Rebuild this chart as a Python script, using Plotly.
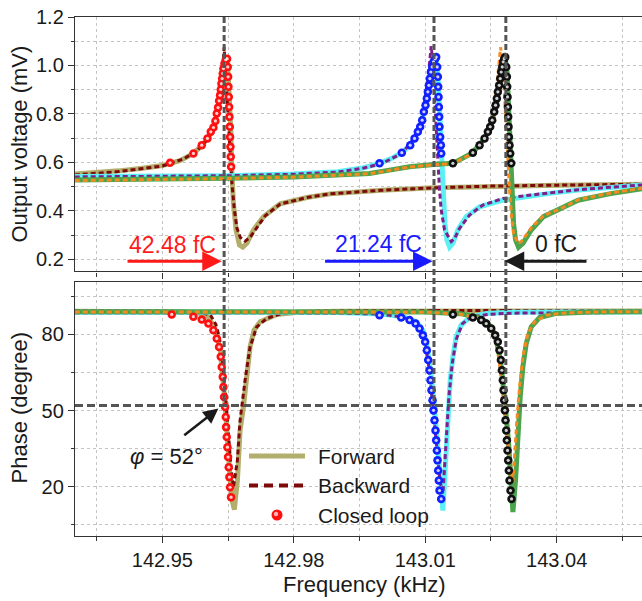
import plotly.graph_objects as go

# ---------------- data (frequency in kHz) ----------------
# Output voltage (mV), 42.48 fC
amp_fwd_4248_f = [142.9300, 142.9350, 142.9400, 142.9450, 142.9500, 142.9540, 142.9571, 142.9590, 142.9605,
                  142.9617, 142.9624, 142.9632, 142.9638, 142.9643, 142.96485, 142.9653, 142.96562, 142.96585,
                  142.96622, 142.96683, 142.96759, 142.96836, 142.96928, 142.97079, 142.97307, 142.97689,
                  142.9830, 142.9883, 143.0000, 143.0120, 143.0250, 143.0400, 143.0597]
amp_fwd_4248_v = [0.552, 0.557, 0.565, 0.575, 0.587, 0.607, 0.637, 0.670, 0.702,
                  0.739, 0.800, 0.869, 0.952, 1.007, 1.030, 0.870, 0.733, 0.568,
                  0.431, 0.321, 0.259, 0.250, 0.266, 0.321, 0.376, 0.429,
                  0.455, 0.470, 0.485, 0.495, 0.502, 0.506, 0.510]
amp_bwd_4248_f = [142.9300, 142.9400, 142.9500, 142.9550, 142.9580, 142.9600, 142.9615, 142.9625, 142.9633,
                  142.9638, 142.9641, 142.9645, 142.9650, 142.9655, 142.9659, 142.9664, 142.9670, 142.9678,
                  142.9689, 142.9700, 142.9715, 142.9735, 142.9769, 142.9830, 142.9883, 143.0000, 143.0120,
                  143.0250, 143.0400, 143.0597]
amp_bwd_4248_v = [0.548, 0.562, 0.585, 0.615, 0.650, 0.690, 0.745, 0.810, 0.900,
                  0.980, 1.075, 0.950, 0.800, 0.620, 0.510, 0.410, 0.330, 0.290,
                  0.275, 0.290, 0.330, 0.380, 0.428, 0.455, 0.470, 0.485, 0.495,
                  0.502, 0.506, 0.510]
amp_cl_4248_f = [142.95176, 142.95709, 142.95899, 142.96029, 142.96105, 142.96166, 142.96211, 142.96242,
                 142.96272, 142.96295, 142.96318, 142.96333, 142.96348, 142.96364, 142.96379, 142.96394,
                 142.96417, 142.96447, 142.96478, 142.96493, 142.96501, 142.96508, 142.96516, 142.96524,
                 142.96531, 142.96539, 142.96546, 142.96554, 142.96561, 142.96569]
amp_cl_4248_v = [0.598, 0.637, 0.671, 0.699, 0.726, 0.744, 0.771, 0.802,
                 0.826, 0.854, 0.877, 0.901, 0.925, 0.946, 0.967, 0.987,
                 1.008, 1.024, 1.028, 0.994, 0.953, 0.912, 0.870, 0.829,
                 0.788, 0.747, 0.705, 0.664, 0.623, 0.582]

# Output voltage (mV), 21.24 fC
amp_fwd_2124_f = [142.9300, 142.9500, 142.9650, 142.9800, 142.9900, 142.9960, 142.99957, 143.0025, 143.00466,
                  143.00657, 143.00756, 143.00832, 143.00885, 143.00931, 143.00969, 143.01007, 143.01037,
                  143.0106, 143.01083, 143.01106, 143.01129, 143.01159, 143.01189, 143.01228, 143.0125,
                  143.0129, 143.0132, 143.01349, 143.01372, 143.01403, 143.01449, 143.01495, 143.01556,
                  143.01632, 143.01745, 143.01935, 143.0224, 143.02772, 143.0330, 143.03838, 143.0449,
                  143.0520, 143.0597]
amp_fwd_2124_v = [0.542, 0.543, 0.545, 0.552, 0.561, 0.578, 0.596, 0.618, 0.640,
                  0.671, 0.699, 0.726, 0.747, 0.774, 0.809, 0.836, 0.864,
                  0.891, 0.918, 0.946, 0.973, 0.994, 1.015, 1.028, 1.032,
                  0.960, 0.840, 0.692, 0.568, 0.458, 0.348, 0.280, 0.250,
                  0.266, 0.321, 0.376, 0.417, 0.444, 0.460, 0.472, 0.486,
                  0.497, 0.507]
amp_bwd_2124_f = [142.9300, 142.9500, 142.9650, 142.9800, 142.9900, 142.9960, 143.0000, 143.0047, 143.0075,
                  143.0090, 143.00946, 143.01022, 143.01083, 143.01136, 143.01174, 143.01212, 143.0125,
                  143.01288, 143.01326, 143.01365, 143.01441, 143.01594, 143.0167, 143.01784, 143.02012,
                  143.02316, 143.02772, 143.0330, 143.03838, 143.0449, 143.0520, 143.0597]
amp_bwd_2124_v = [0.540, 0.542, 0.545, 0.551, 0.560, 0.577, 0.594, 0.638, 0.700,
                  0.770, 0.802, 0.898, 0.980, 1.080, 1.008, 0.870, 0.733,
                  0.596, 0.486, 0.403, 0.321, 0.273, 0.286, 0.328, 0.383,
                  0.424, 0.451, 0.463, 0.474, 0.487, 0.497, 0.507]
amp_cl_2124_f = [142.99957, 143.00466, 143.00657, 143.00756, 143.00832, 143.00885, 143.00931, 143.00969,
                 143.01007, 143.01037, 143.0106, 143.01083, 143.01106, 143.01129, 143.01159, 143.01189,
                 143.01228, 143.0125, 143.01273, 143.01288, 143.01296, 143.01304, 143.01311, 143.01319,
                 143.01326, 143.01342, 143.01357, 143.01365]
amp_cl_2124_v = [0.596, 0.640, 0.671, 0.699, 0.726, 0.747, 0.774, 0.809,
                 0.836, 0.864, 0.891, 0.918, 0.946, 0.973, 0.994, 1.015,
                 1.028, 1.035, 0.994, 0.953, 0.912, 0.870, 0.829, 0.788,
                 0.747, 0.705, 0.671, 0.637]

# Output voltage (mV), 0 fC
amp_fwd_0_f = [142.9300, 142.9500, 142.9650, 142.9800, 142.9900, 142.99728, 143.00185, 143.00642, 143.0125,
               143.01631, 143.02087, 143.0224, 143.02354, 143.0243, 143.02483, 143.02529, 143.02575, 143.02605,
               143.02635, 143.02658, 143.02689, 143.02712, 143.02734, 143.02757, 143.0278, 143.02803, 143.02826,
               143.0287, 143.0291, 143.0294, 143.02963, 143.02986, 143.03016, 143.03062, 143.0313, 143.03229,
               143.0342, 143.0370, 143.0418, 143.0449, 143.0520, 143.0597]
amp_fwd_0_v = [0.527, 0.530, 0.534, 0.540, 0.547, 0.554, 0.568, 0.582, 0.592,
               0.596, 0.640, 0.671, 0.699, 0.726, 0.747, 0.774, 0.809, 0.836,
               0.864, 0.891, 0.918, 0.946, 0.973, 0.994, 1.015, 1.028, 1.032,
               0.970, 0.820, 0.680, 0.560, 0.431, 0.348, 0.280, 0.250, 0.266,
               0.321, 0.376, 0.414, 0.444, 0.470, 0.492]
amp_bwd_0_f = [142.9300, 142.9500, 142.9650, 142.9800, 142.9900, 142.99728, 143.00185, 143.00642, 143.0125,
               143.01631, 143.02087, 143.0224, 143.0235, 143.0248, 143.0258, 143.0264, 143.0268, 143.0272,
               143.02772, 143.02811, 143.02849, 143.02879, 143.02924, 143.02971, 143.03016, 143.03114,
               143.0319, 143.03333, 143.0342, 143.0370, 143.0418, 143.0449, 143.0520, 143.0597]
amp_bwd_0_v = [0.525, 0.528, 0.533, 0.539, 0.546, 0.553, 0.567, 0.581, 0.591,
               0.595, 0.638, 0.668, 0.698, 0.745, 0.820, 0.920, 1.000, 1.075,
               1.008, 0.870, 0.733, 0.596, 0.486, 0.376, 0.307, 0.266,
               0.273, 0.307, 0.330, 0.380, 0.416, 0.446, 0.472, 0.494]
amp_cl_0_f = [143.01631, 143.020875, 143.0224, 143.02354, 143.0243, 143.02483, 143.02529, 143.02575,
              143.02605, 143.02635, 143.02658, 143.02689, 143.02712, 143.02734, 143.02757, 143.0278,
              143.02803, 143.02826, 143.02849, 143.02864, 143.02871, 143.02879, 143.02887, 143.02894,
              143.02902, 143.02909, 143.02924, 143.0294, 143.02963]
amp_cl_0_v = [0.596, 0.640, 0.671, 0.699, 0.726, 0.747, 0.774, 0.809,
              0.836, 0.864, 0.891, 0.918, 0.946, 0.973, 0.994, 1.015,
              1.028, 1.035, 0.994, 0.953, 0.912, 0.870, 0.829, 0.788,
              0.747, 0.705, 0.671, 0.637, 0.596]

# Phase (degree), 42.48 fC
ph_fwd_4248_f = [142.9300, 142.9400, 142.9500, 142.9550, 142.9580, 142.9600, 142.9615, 142.9624, 142.9632,
                 142.9637, 142.9641, 142.9645, 142.9648, 142.9652, 142.9656, 142.9660, 142.96644, 142.96713,
                 142.96774, 142.9685, 142.96926, 142.97002, 142.97094, 142.97231, 142.97611, 142.98144,
                 142.9900, 143.0100, 143.0300, 143.0450, 143.0597]
ph_fwd_4248_d = [89.2, 89.2, 89.1, 88.9, 88.5, 87.8, 84.0, 80.0, 74.0,
                 66.0, 57.0, 48.0, 39.0, 29.0, 20.0, 14.0, 11.0, 22.5,
                 42.2, 51.4, 64.6, 75.1, 81.7, 85.0, 87.9, 88.9,
                 89.2, 89.3, 89.3, 89.3, 89.3]
ph_bwd_4248_f = [142.9300, 142.9400, 142.9500, 142.9550, 142.9590, 142.9610, 142.9622, 142.9630, 142.9636,
                 142.9641, 142.9645, 142.9649, 142.9653, 142.9657, 142.96621, 142.96713, 142.96774, 142.96888,
                 142.97002, 142.97155, 142.97384, 142.97763, 142.9850, 142.9950, 143.0100, 143.0300, 143.0450,
                 143.0597]
ph_bwd_4248_d = [89.4, 89.4, 89.3, 89.1, 88.6, 87.6, 84.0, 79.0, 72.0,
                 63.0, 54.0, 45.0, 36.0, 27.0, 19.8, 30.4, 46.2, 62.0,
                 75.1, 83.0, 86.3, 88.5, 89.2, 89.4, 89.4, 89.4, 89.4,
                 89.4]
ph_cl_4248_f = [142.95214, 142.95708, 142.95899, 142.96051, 142.96165, 142.96241, 142.96295, 142.96333,
                142.96355, 142.96378, 142.96393, 142.96409, 142.96432, 142.96447, 142.96454, 142.9647,
                142.96485, 142.965, 142.96515, 142.9653, 142.96546, 142.96568]
ph_cl_4248_d = [87.9, 87.0, 85.9, 84.3, 81.7, 78.4, 75.1, 71.2,
                67.2, 63.3, 59.3, 55.4, 51.4, 47.5, 43.5, 39.6,
                35.6, 31.7, 27.7, 23.8, 19.8, 15.9]

# Phase (degree), 21.24 fC
ph_fwd_2124_f = [142.9300, 142.9500, 142.9700, 142.9900, 143.0000, 143.0050, 143.0080, 143.0095, 143.0103,
                 143.0109, 143.0114, 143.0119, 143.0124, 143.0128, 143.0132, 143.0136, 143.01403, 143.01463,
                 143.01517, 143.0157, 143.01631, 143.01707, 143.01821, 143.02011, 143.02392, 143.0300,
                 143.0450, 143.0597]
ph_fwd_2124_d = [88.8, 88.8, 88.8, 88.7, 88.1, 87.0, 85.0, 81.5, 77.0,
                 71.0, 63.5, 55.0, 46.5, 38.0, 29.0, 20.0, 10.6, 29.0,
                 48.8, 62.0, 71.2, 79.1, 83.7, 86.7, 88.3, 88.8,
                 88.9, 88.9]
ph_bwd_2124_f = [142.9300, 142.9500, 142.9700, 142.9900, 143.0000, 143.0050, 143.0080, 143.0093, 143.0101,
                 143.0107, 143.0112, 143.0117, 143.0122, 143.0126, 143.0130, 143.0134, 143.01403, 143.01441,
                 143.01479, 143.0154, 143.01616, 143.01707, 143.0185, 143.0205, 143.0250, 143.0300, 143.0450,
                 143.0597]
ph_bwd_2124_d = [88.6, 88.6, 88.6, 88.5, 88.0, 86.8, 84.6, 80.5, 75.5,
                 69.0, 61.0, 52.5, 44.0, 36.0, 28.5, 22.0, 17.2, 26.4,
                 38.3, 55.4, 68.5, 78.0, 84.3, 87.0, 88.0, 88.4, 88.6,
                 88.7]
ph_cl_2124_f = [142.99957, 143.00451, 143.00642, 143.00779, 143.0087, 143.00946, 143.00999, 143.01037,
                143.01068, 143.01098, 143.01121, 143.01144, 143.01167, 143.01189, 143.01212, 143.01235,
                143.0125, 143.01266, 143.01281, 143.01296, 143.01311, 143.01326, 143.01365]
ph_cl_2124_d = [87.6, 86.7, 85.7, 84.3, 82.4, 79.7, 77.1, 73.8,
                69.9, 65.9, 62.0, 58.0, 54.1, 50.1, 46.2, 42.2,
                38.3, 34.3, 30.4, 26.4, 22.5, 18.5, 15.2]

# Phase (degree), 0 fC
ph_fwd_0_f = [142.9300, 142.9600, 142.9900, 143.0100, 143.0180, 143.0220, 143.0240, 143.0252, 143.0260,
              143.0266, 143.0271, 143.0275, 143.0279, 143.0283, 143.0287, 143.0291, 143.0295, 143.03001,
              143.03062, 143.03115, 143.03168, 143.03229, 143.03305, 143.0342, 143.0361, 143.0399, 143.0480,
              143.0597]
ph_fwd_0_d = [89.0, 89.0, 89.0, 88.9, 88.2, 86.8, 85.0, 82.5, 79.5,
              75.5, 70.5, 65.0, 59.0, 52.0, 44.0, 35.5, 26.0, 10.0,
              22.5, 42.2, 55.4, 67.2, 76.4, 83.0, 86.7, 88.3, 88.9,
              89.0]
ph_bwd_0_f = [142.9300, 142.9600, 142.9900, 143.0100, 143.0180, 143.0220, 143.0240, 143.0251, 143.0259,
              143.0265, 143.0270, 143.0274, 143.0278, 143.0282, 143.0286, 143.0290, 143.0295, 143.03001,
              143.03039, 143.03092, 143.03153, 143.03229, 143.03343, 143.03495, 143.03762, 143.0420, 143.0500,
              143.0597]
ph_bwd_0_d = [88.9, 88.9, 88.9, 88.8, 88.0, 86.5, 84.5, 81.5, 78.0,
              73.5, 68.0, 62.0, 55.5, 48.5, 41.0, 33.5, 26.0, 21.8,
              33.0, 46.2, 59.3, 71.2, 80.4, 85.0, 87.6, 88.5, 88.9,
              89.0]
ph_cl_0_f = [143.01631, 143.02087, 143.02278, 143.02392, 143.02506, 143.02597, 143.02658, 143.02696,
             143.02727, 143.0275, 143.02772, 143.02788, 143.02803, 143.02818, 143.02833, 143.02849,
             143.02864, 143.02879, 143.02894, 143.02909, 143.02925, 143.02947, 143.0297]
ph_cl_0_d = [87.9, 86.7, 85.7, 84.3, 82.4, 79.7, 77.1, 73.8,
             69.9, 65.9, 62.0, 58.0, 54.1, 50.1, 46.2, 42.2,
             38.3, 34.3, 30.4, 26.4, 22.5, 18.5, 15.2]

# resonance markers, locked phase and charge labels
resonance_khz = [142.9641, 143.0120, 143.0284]
locked_phase_deg = 52
charge_labels = ["42.48 fC", "21.24 fC", "0 fC"]

# ---------------- styling ----------------
FONT = "Arial, 'Liberation Sans', sans-serif"
INK = "#1a1a1a"
OLIVE, DARKRED = "#b3ae6c", "#7d0a0a"
CYAN, PURPLE = "#5cf0f5", "#7e1f8c"
GREEN, ORANGE = "#4ca54c", "#f48a20"
DOT_RED, DOT_BLUE, DOT_BLACK = "#ff1010", "#1020ff", "#101010"

X_RANGE = [142.93006, 143.05948]
TOP_DOMAIN = [0.5098, 1.0]
BOT_DOMAIN = [0.0, 0.4900]
TOP_RANGE = [0.15, 1.2]
BOT_RANGE = [0.6, 100.8]

fig = go.Figure()


def line(xs, ys, color, axis, dashed=False):
    xa, ya = ("x", "y") if axis == 1 else ("x2", "y2")
    fig.add_trace(go.Scatter(
        x=xs, y=ys, mode="lines", xaxis=xa, yaxis=ya, showlegend=False, hoverinfo="skip",
        line=dict(color=color, width=3 if dashed else 5, dash="5px,3px" if dashed else "solid")))


def dots(xs, ys, color, axis):
    """Closed-loop points drawn as shaded balls: solid disc plus a pale centre."""
    xa, ya = ("x", "y") if axis == 1 else ("x2", "y2")
    fig.add_trace(go.Scatter(
        x=xs, y=ys, mode="markers", xaxis=xa, yaxis=ya, showlegend=False, hoverinfo="skip",
        marker=dict(size=8.5, color=color, line=dict(width=0))))
    fig.add_trace(go.Scatter(
        x=xs, y=ys, mode="markers", xaxis=xa, yaxis=ya, showlegend=False, hoverinfo="skip",
        marker=dict(size=3.2, color="#ffffff", opacity=0.8, line=dict(width=0))))


# amplitude panel
line(amp_fwd_4248_f, amp_fwd_4248_v, OLIVE, 1)
line(amp_bwd_4248_f, amp_bwd_4248_v, DARKRED, 1, True)
line(amp_fwd_2124_f, amp_fwd_2124_v, CYAN, 1)
line(amp_bwd_2124_f, amp_bwd_2124_v, PURPLE, 1, True)
line(amp_fwd_0_f, amp_fwd_0_v, GREEN, 1)
line(amp_bwd_0_f, amp_bwd_0_v, ORANGE, 1, True)
dots(amp_cl_4248_f, amp_cl_4248_v, DOT_RED, 1)
dots(amp_cl_2124_f, amp_cl_2124_v, DOT_BLUE, 1)
dots(amp_cl_0_f, amp_cl_0_v, DOT_BLACK, 1)

# phase panel
line(ph_fwd_4248_f, ph_fwd_4248_d, OLIVE, 2)
line(ph_bwd_4248_f, ph_bwd_4248_d, DARKRED, 2, True)
line(ph_fwd_2124_f, ph_fwd_2124_d, CYAN, 2)
line(ph_bwd_2124_f, ph_bwd_2124_d, PURPLE, 2, True)
line(ph_fwd_0_f, ph_fwd_0_d, GREEN, 2)
line(ph_bwd_0_f, ph_bwd_0_d, ORANGE, 2, True)
dots(ph_cl_4248_f, ph_cl_4248_d, DOT_RED, 2)
dots(ph_cl_2124_f, ph_cl_2124_d, DOT_BLUE, 2)
dots(ph_cl_0_f, ph_cl_0_d, DOT_BLACK, 2)

grid = dict(showgrid=True, gridcolor="#c4c4c4", griddash="dot", gridwidth=1)
axis_common = dict(showline=True, linecolor="#333333", linewidth=1.4, ticks="outside",
                   ticklen=6, tickwidth=1.3, tickcolor="#333333", zeroline=False,
                   tickfont=dict(family=FONT, size=20, color=INK), **grid)

xaxis_common = dict(axis_common, range=X_RANGE, tick0=142.95, dtick=0.03, tickformat=".2f",
                    mirror=True,
                    minor=dict(dtick=0.015, tick0=142.95, ticks="outside", ticklen=4,
                               tickcolor="#333333", **grid))

fig.update_layout(
    width=642, height=601, autosize=False,
    margin=dict(l=75, r=0, t=17, b=65),
    paper_bgcolor="white", plot_bgcolor="white",
    font=dict(family=FONT, color=INK),
    xaxis=dict(xaxis_common, anchor="y", domain=[0, 1], showticklabels=False),
    xaxis2=dict(xaxis_common, anchor="y2", domain=[0, 1]),
    yaxis=dict(axis_common, anchor="x", domain=TOP_DOMAIN, range=TOP_RANGE, tick0=0.2, dtick=0.2,
               tickformat=".1f",
               minor=dict(dtick=0.1, tick0=0.2, ticks="outside", ticklen=3, tickcolor="#333333", **grid)),
    yaxis2=dict(axis_common, anchor="x2", domain=BOT_DOMAIN, range=BOT_RANGE, tick0=20, dtick=30,
                minor=dict(dtick=15, tick0=20, ticks="outside", ticklen=3, tickcolor="#333333", **grid)),
)

# paper y of the locked phase in the lower panel
phase_paper_y = BOT_DOMAIN[0] + (locked_phase_deg - BOT_RANGE[0]) / (BOT_RANGE[1] - BOT_RANGE[0]) * (
    BOT_DOMAIN[1] - BOT_DOMAIN[0])

shapes = []
for f0 in resonance_khz:
    shapes.append(dict(type="line", xref="x", yref="paper", x0=f0, x1=f0, y0=TOP_DOMAIN[1], y1=phase_paper_y,
                       line=dict(color="#555555", width=3, dash="6px,3px"), layer="above"))
shapes.append(dict(type="line", xref="x2 domain", yref="y2", x0=0, x1=1, y0=locked_phase_deg,
                   y1=locked_phase_deg, line=dict(color="#555555", width=3, dash="8px,4px"), layer="above"))


def px_x(px):
    return (px - 75) / 567.0


def px_y(py):
    return (536 - py) / 519.0


# legend samples
shapes.append(dict(type="line", xref="paper", yref="paper", x0=px_x(249), x1=px_x(305),
                   y0=px_y(456), y1=px_y(456), line=dict(color=OLIVE, width=5)))
shapes.append(dict(type="line", xref="paper", yref="paper", x0=px_x(249), x1=px_x(305),
                   y0=px_y(485.5), y1=px_y(485.5), line=dict(color=DARKRED, width=4, dash="9px,6px")))
shapes.append(dict(type="circle", xref="paper", yref="paper", xsizemode="pixel", ysizemode="pixel",
                   xanchor=px_x(277), yanchor=px_y(515), x0=-5.5, x1=5.5, y0=-5.5, y1=5.5,
                   fillcolor=DOT_RED, line=dict(width=0)))
shapes.append(dict(type="circle", xref="paper", yref="paper", xsizemode="pixel", ysizemode="pixel",
                   xanchor=px_x(276), yanchor=px_y(514), x0=-2.2, x1=2.2, y0=-2.2, y1=2.2,
                   fillcolor="#ffb3b3", line=dict(width=0)))
fig.update_layout(shapes=shapes)

ann = []
# charge labels and arrows
label_specs = [
    (charge_labels[0], "#ff1a1a", 142.9523, 0.257, 142.96356, 142.94171),
    (charge_labels[1], "#1a1aff", 142.99934, 0.265, 143.01167, 142.98680),
    (charge_labels[2], INK, 143.03995, 0.265, 143.02815, 143.04715),
]
for text, color, tx, ty, tip, tail in label_specs:
    ann.append(dict(xref="x", yref="y", x=tx, y=ty, text=text, showarrow=False,
                    xanchor="center", yanchor="middle",
                    font=dict(family=FONT, size=23, color=color)))
    ann.append(dict(xref="x", yref="y", axref="x", ayref="y", x=tip, y=0.192, ax=tail, ay=0.192,
                    text="", showarrow=True, arrowhead=2, arrowsize=1.3, arrowwidth=3, arrowcolor=color))

# locked phase annotation
ann.append(dict(xref="x2", yref="y2", x=142.9510, y=31.9, text="<i>φ</i> = 52°", showarrow=False,
                xanchor="center", yanchor="middle", font=dict(family=FONT, size=22, color=INK)))
ann.append(dict(xref="x2", yref="y2", axref="x2", ayref="y2", x=142.96279, y=50.8, ax=142.95466, ay=39.8,
                text="", showarrow=True, arrowhead=2, arrowsize=1.2, arrowwidth=2.5, arrowcolor=INK))

# legend labels
for label, py in [("Forward", 456), ("Backward", 485.5), ("Closed loop", 515)]:
    ann.append(dict(xref="paper", yref="paper", x=px_x(316), y=px_y(py), xanchor="left", yanchor="middle",
                    text=label, showarrow=False, font=dict(family=FONT, size=21, color=INK)))

# axis titles
ann.append(dict(xref="paper", yref="paper", x=px_x(364), y=px_y(584), text="Frequency (kHz)",
                xanchor="center", yanchor="middle",
                showarrow=False, font=dict(family=FONT, size=22, color=INK)))
ann.append(dict(xref="paper", yref="paper", x=px_x(18.5), y=px_y(144), text="Output voltage (mV)",
                xanchor="center", yanchor="middle",
                textangle=-90, showarrow=False, font=dict(family=FONT, size=22, color=INK)))
ann.append(dict(xref="paper", yref="paper", x=px_x(18.5), y=px_y(408), text="Phase (degree)",
                xanchor="center", yanchor="middle",
                textangle=-90, showarrow=False, font=dict(family=FONT, size=22, color=INK)))
fig.update_layout(annotations=ann)

fig.write_html("out.html")
